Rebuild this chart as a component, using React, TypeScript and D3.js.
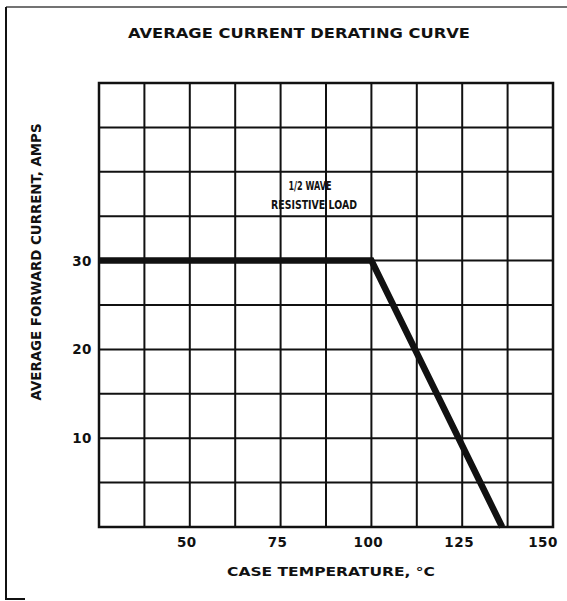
import React, { useEffect, useRef } from "react";
import * as d3 from "d3";

// Average current derating curve

const temps = [25, 100, 136];
const amps = [30, 30, 0];
const xTicks = [50, 75, 100, 125, 150];
const yTicks = [10, 20, 30];
const title = "AVERAGE CURRENT DERATING CURVE";
const xTitle = "CASE TEMPERATURE, °C";
const yTitle = "AVERAGE FORWARD CURRENT, AMPS";
const note = ["1/2 WAVE", "RESISTIVE LOAD"];

export default function App() {
  const ref = useRef<SVGSVGElement>(null);

  useEffect(() => {
    const W = 567, H = 601;
    const margin = { top: 83, right: 14, bottom: 74, left: 99 };
    const w = W - margin.left - margin.right;
    const h = H - margin.top - margin.bottom;
    const ink = "#111";
    const font = "'DejaVu Sans', 'Liberation Sans', sans-serif";

    const svg = d3.select(ref.current);
    svg.selectAll("*").remove();

    // outer frame (only top + left edges survive in the scan)
    svg.append("line").attr("x1", 6).attr("x2", W).attr("y1", 7).attr("y2", 7)
      .attr("stroke", "#444").attr("stroke-width", 1.5);
    svg.append("path").attr("d", `M6,7 V599 H25`)
      .attr("fill", "none").attr("stroke", ink).attr("stroke-width", 2);

    svg.append("text")
      .attr("x", 299).attr("y", 38)
      .attr("text-anchor", "middle")
      .attr("font-family", font).attr("font-weight", "bold").attr("font-size", 14.5)
      .attr("textLength", 342).attr("lengthAdjust", "spacingAndGlyphs")
      .attr("fill", ink)
      .text(title);

    const g = svg.append("g").attr("transform", `translate(${margin.left}, ${margin.top})`);

    const x = d3.scaleLinear().domain([25, 150]).range([0, w]);
    const y = d3.scaleLinear().domain([0, 50]).range([h, 0]);

    // grid
    g.selectAll(".vgrid").data(d3.range(25, 150.01, 12.5)).join("line")
      .attr("class", "vgrid")
      .attr("x1", d => x(d)).attr("x2", d => x(d))
      .attr("y1", 0).attr("y2", h)
      .attr("stroke", ink).attr("stroke-width", 2);
    g.selectAll(".hgrid").data(d3.range(0, 50.01, 5)).join("line")
      .attr("class", "hgrid")
      .attr("x1", 0).attr("x2", w)
      .attr("y1", d => y(d)).attr("y2", d => y(d))
      .attr("stroke", ink).attr("stroke-width", 2);
    g.append("rect").attr("width", w).attr("height", h)
      .attr("fill", "none").attr("stroke", ink).attr("stroke-width", 2.5);

    // tick labels
    g.selectAll(".xlab").data(xTicks).join("text")
      .attr("class", "xlab")
      .attr("x", (d, i) => x(d) + (i === xTicks.length - 1 ? -10 : -3))
      .attr("y", h + 20)
      .attr("text-anchor", "middle")
      .attr("font-family", font).attr("font-weight", "bold").attr("font-size", 13.5)
      .attr("letter-spacing", 0.5)
      .attr("fill", ink)
      .text(d => d);
    g.selectAll(".ylab").data(yTicks).join("text")
      .attr("class", "ylab")
      .attr("x", -7).attr("y", d => y(d) + 5)
      .attr("text-anchor", "end")
      .attr("font-family", font).attr("font-weight", "bold").attr("font-size", 13.5)
      .attr("letter-spacing", 0.5)
      .attr("fill", ink)
      .text(d => d);

    // annotation
    g.selectAll(".note").data(note).join("text")
      .attr("class", "note")
      .attr("x", (d, i) => i === 0 ? 211 : 215)
      .attr("y", (d, i) => 107 + i * 19)
      .attr("text-anchor", "middle")
      .attr("font-family", font).attr("font-weight", "bold").attr("font-size", 11.5)
      .attr("textLength", (d, i) => i === 0 ? 43 : 86)
      .attr("lengthAdjust", "spacingAndGlyphs")
      .attr("fill", ink)
      .text(d => d);

    // derating curve
    const line = d3.line<number>()
      .x((d, i) => x(temps[i]))
      .y(d => y(d));
    g.append("path").datum(amps)
      .attr("d", line)
      .attr("fill", "none").attr("stroke", ink)
      .attr("stroke-width", 6.5).attr("stroke-linejoin", "miter");

    // axis titles
    svg.append("text")
      .attr("x", 331).attr("y", 576)
      .attr("text-anchor", "middle")
      .attr("font-family", font).attr("font-weight", "bold").attr("font-size", 13)
      .attr("textLength", 208).attr("lengthAdjust", "spacingAndGlyphs")
      .attr("fill", ink)
      .text(xTitle);
    svg.append("text")
      .attr("transform", "rotate(-90)")
      .attr("x", -262).attr("y", 41)
      .attr("text-anchor", "middle")
      .attr("font-family", font).attr("font-weight", "bold").attr("font-size", 13.5)
      .attr("textLength", 277).attr("lengthAdjust", "spacingAndGlyphs")
      .attr("fill", ink)
      .text(yTitle);
  }, []);

  return (
    <svg ref={ref} width={567} height={601}
      style={{ position: "absolute", left: 0, top: 0, background: "#fff" }} />
  );
}
